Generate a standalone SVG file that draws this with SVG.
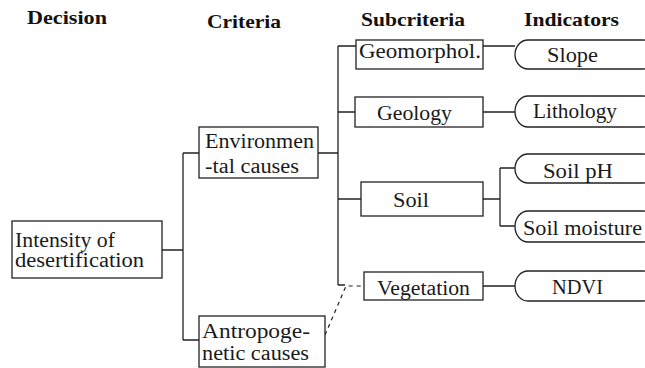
<svg xmlns="http://www.w3.org/2000/svg" width="645" height="368" viewBox="0 0 645 368" font-family="Liberation Serif, serif">
<style>
.box{fill:#fff;stroke:#222;stroke-width:1.3}
.ind{fill:#fff;stroke:#222;stroke-width:1.3}
.t{font-size:20px;fill:#1a1a1a}
.h{font-size:19px;font-weight:bold;fill:#111}
.c{fill:none;stroke:#222;stroke-width:1.3}
.d{fill:none;stroke:#222;stroke-width:1.2;stroke-dasharray:4 4}
</style>
<rect width="645" height="368" fill="#fff"/>
<g id="headers">
<text class="h" x="27" y="24" textLength="80" lengthAdjust="spacingAndGlyphs">Decision</text>
<text class="h" x="207" y="27.5" textLength="74" lengthAdjust="spacingAndGlyphs">Criteria</text>
<text class="h" x="361" y="26" textLength="104" lengthAdjust="spacingAndGlyphs">Subcriteria</text>
<text class="h" x="524" y="26" textLength="95" lengthAdjust="spacingAndGlyphs">Indicators</text>
</g>
<g id="connectors">
<path class="c" d="M162 250H183M183 153V340M183 153H199M183 340H199"/>
<path class="c" d="M318 153H338M338 46V285M338 46H356M338 112H355M338 199H361M338 285H345"/>
<path class="d" d="M325 335L346 286H364"/>
<path class="c" d="M483 46H515M483 112H515M483 199H500M500 168V226M500 168H515M500 226H515M483 286H515"/>
</g>
<g id="intensity">
<rect class="box" x="12" y="221" width="150" height="57"/>
<text class="t" x="15" y="246.5" textLength="100" lengthAdjust="spacingAndGlyphs">Intensity of</text>
<text class="t" x="15" y="267" textLength="129" lengthAdjust="spacingAndGlyphs">desertification</text>
</g>
<g id="environmental">
<rect class="box" x="199" y="127" width="119" height="51"/>
<text class="t" x="205" y="147.5" textLength="109" lengthAdjust="spacingAndGlyphs">Environmen</text>
<text class="t" x="205" y="172.5" textLength="94" lengthAdjust="spacingAndGlyphs">-tal causes</text>
</g>
<g id="antropogenetic">
<rect class="box" x="199" y="316" width="126" height="51"/>
<text class="t" x="202" y="337.5" textLength="108" lengthAdjust="spacingAndGlyphs">Antropoge-</text>
<text class="t" x="202" y="360" textLength="107" lengthAdjust="spacingAndGlyphs">netic causes</text>
</g>
<g id="geomorphol">
<rect class="box" x="356" y="40" width="127" height="29"/>
<text class="t" x="359" y="57.5" textLength="122" lengthAdjust="spacingAndGlyphs">Geomorphol.</text>
</g>
<g id="geology">
<rect class="box" x="355" y="97" width="128" height="30"/>
<text class="t" x="377" y="120" textLength="75" lengthAdjust="spacingAndGlyphs">Geology</text>
</g>
<g id="soil">
<rect class="box" x="361" y="182" width="122" height="34"/>
<text class="t" x="393" y="206.5" textLength="36" lengthAdjust="spacingAndGlyphs">Soil</text>
</g>
<g id="vegetation">
<rect class="box" x="364" y="272" width="119" height="28"/>
<text class="t" x="377" y="295" textLength="93" lengthAdjust="spacingAndGlyphs">Vegetation</text>
</g>
<g id="slope">
<rect class="ind" x="515" y="40" width="141" height="29" rx="13" ry="14.5"/>
<text class="t" x="547" y="62" textLength="51" lengthAdjust="spacingAndGlyphs">Slope</text>
</g>
<g id="lithology">
<rect class="ind" x="515" y="96" width="141" height="31" rx="13" ry="15.5"/>
<text class="t" x="533" y="117.5" textLength="84" lengthAdjust="spacingAndGlyphs">Lithology</text>
</g>
<g id="soilph">
<rect class="ind" x="515" y="154" width="141" height="29" rx="13" ry="14.5"/>
<text class="t" x="543" y="177.5" textLength="70" lengthAdjust="spacingAndGlyphs">Soil pH</text>
</g>
<g id="soilmoisture">
<rect class="ind" x="515" y="211" width="141" height="31" rx="13" ry="15.5"/>
<text class="t" x="523" y="235" textLength="119" lengthAdjust="spacingAndGlyphs">Soil moisture</text>
</g>
<g id="ndvi">
<rect class="ind" x="515" y="271" width="141" height="30" rx="13" ry="15"/>
<text class="t" x="552" y="293.5" textLength="51" lengthAdjust="spacingAndGlyphs">NDVI</text>
</g>
</svg>
